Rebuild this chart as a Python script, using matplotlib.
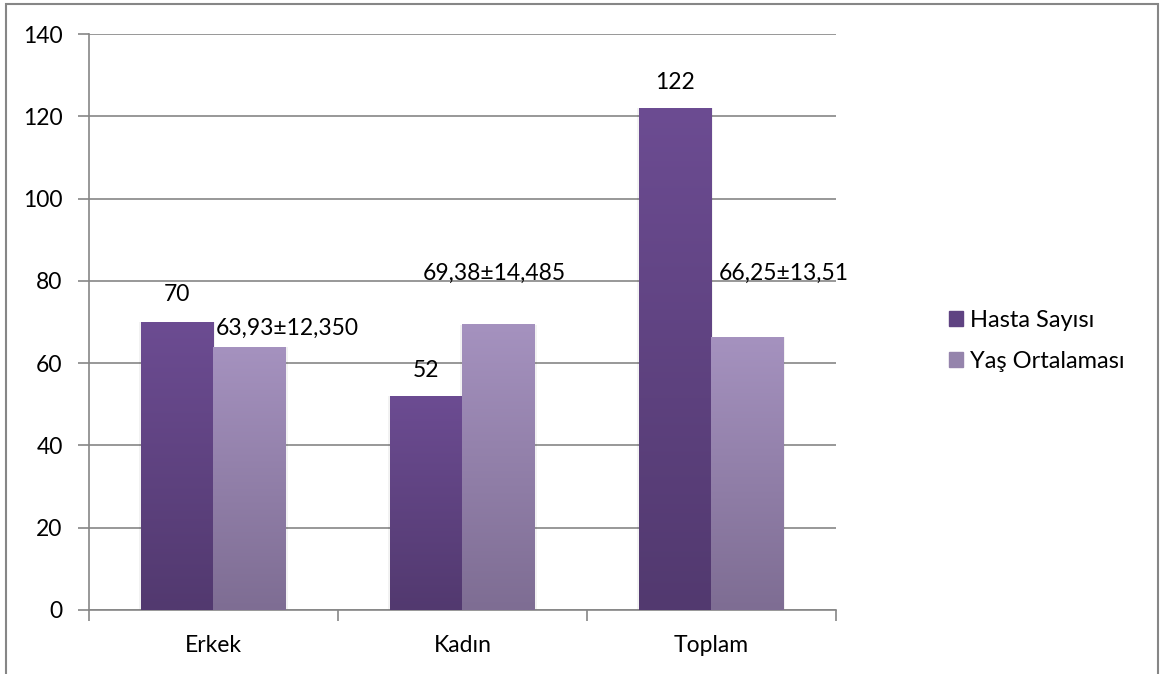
import matplotlib.pyplot as plt
import numpy as np
from matplotlib.colors import LinearSegmentedColormap
from matplotlib.patches import Rectangle

plt.rcParams['font.family'] = ['Lato', 'DejaVu Sans']

categories = ['Erkek', 'Kadın', 'Toplam']
hasta = [70, 52, 122]
yas = [63.93, 69.38, 66.25]
hasta_labels = ['70', '52', '122']
yas_labels = ['63,93±12,350', '69,38±14,485', '66,25±13,51']
series_names = ['Hasta Sayısı', 'Yaş Ortalaması']

# label placement (x offset from category, y in data)
hasta_lbl_pos = [(-0.145, 76.6), (-0.145, 58.3), (-0.145, 128.3)]
yas_lbl_pos = [(0.295, 68.5), (0.13, 81.9), (0.29, 81.9)]

cm_h = LinearSegmentedColormap.from_list('h', ['#52396f', '#6c4c92'])
cm_y = LinearSegmentedColormap.from_list('y', ['#7e6d93', '#a592bf'])

fs = 16.5
fig = plt.figure(figsize=(11.64, 6.74), dpi=100)
ax = fig.add_axes([0.0765, 0.095, 0.6415, 0.8545])

w = 0.29
x = np.arange(len(categories))
grad = np.linspace(0, 1, 256).reshape(-1, 1)


def gbar(xc, h, cmap):
    # soft shadow
    ax.add_patch(Rectangle((xc - w / 2 - 0.008, 0), w + 0.016, h,
                           color='#000000', alpha=0.05, lw=0, zorder=2))
    ax.imshow(grad, cmap=cmap, origin='lower', aspect='auto',
              extent=(xc - w / 2, xc + w / 2, 0, h), zorder=3)


for i in range(len(categories)):
    gbar(x[i] - w / 2, hasta[i], cm_h)
    gbar(x[i] + w / 2, yas[i], cm_y)
    ax.text(x[i] + hasta_lbl_pos[i][0], hasta_lbl_pos[i][1], hasta_labels[i],
            ha='center', va='center', fontsize=fs)
    ax.text(x[i] + yas_lbl_pos[i][0], yas_lbl_pos[i][1], yas_labels[i],
            ha='center', va='center', fontsize=fs)

ax.set_xlim(-0.5, 2.5)
ax.set_ylim(0, 140)
ax.set_yticks(range(0, 141, 20))
ax.set_xticks(x)
ax.set_xticklabels(categories)
ax.set_xticks([-0.5, 0.5, 1.5, 2.5], minor=True)
ax.tick_params(axis='x', which='major', length=0, pad=18, labelsize=fs)
ax.tick_params(axis='x', which='minor', length=8, color='#868686', width=1.2)
ax.tick_params(axis='y', length=8, color='#868686', width=1.2, pad=11, labelsize=fs)
ax.grid(axis='y', color='#868686', lw=1.2, zorder=1)
ax.set_axisbelow(True)
for s in ['top', 'right']:
    ax.spines[s].set_visible(False)
for s in ['left', 'bottom']:
    ax.spines[s].set_color('#868686')
    ax.spines[s].set_linewidth(1.2)

handles = [Rectangle((0, 0), 1, 1, color='#5f4382'), Rectangle((0, 0), 1, 1, color='#9584ac')]
fig.legend(handles, series_names, loc='center left', bbox_to_anchor=(0.815, 0.494),
           frameon=False, fontsize=17, handlelength=0.6, handleheight=0.6,
           handletextpad=0.3, labelspacing=0.85, borderpad=0, borderaxespad=0)

# outer chart border
fig.add_artist(Rectangle((6 / 1164, -0.05), 1152 / 1164, 1.05 - 4 / 674,
                         transform=fig.transFigure, fill=False,
                         edgecolor='#868686', lw=1.5))

fig.savefig('out.png', dpi=100)
